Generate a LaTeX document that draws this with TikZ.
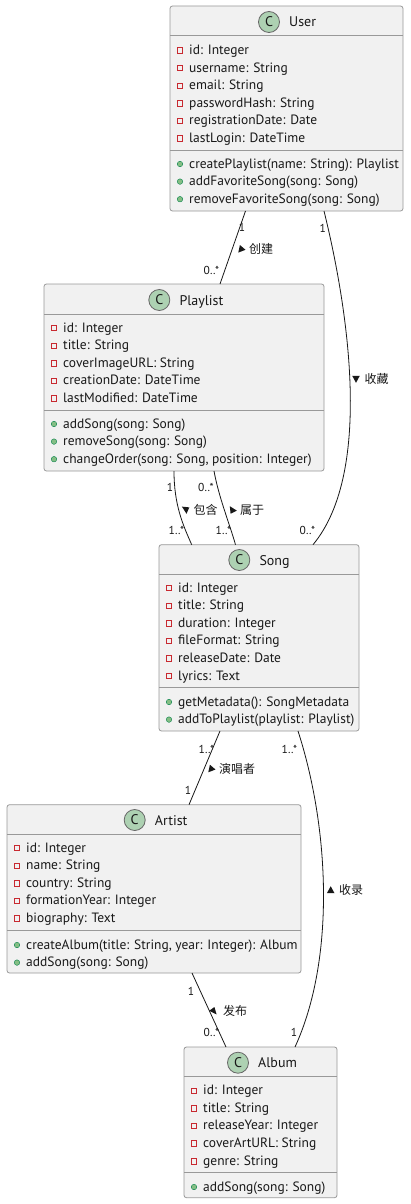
\documentclass[tikz,border=0pt]{standalone}
\usepackage{fontspec}
\setmainfont{PT Sans}
\newfontfamily\cjk{Noto Sans CJK SC}
\definecolor{boxfill}{HTML}{F1F1F1}
\definecolor{boxline}{HTML}{999999}
\definecolor{spotfill}{HTML}{ADD1B2}
\definecolor{attrred}{HTML}{C82930}
\definecolor{methfill}{HTML}{84BE84}
\definecolor{methline}{HTML}{038048}
\definecolor{ink}{HTML}{181818}
\tikzset{
 cls/.style={draw=boxline, fill=boxfill, rounded corners=2.5pt, inner sep=0pt, outer sep=0pt, line width=0.8pt},
 divl/.style={draw=boxline, line width=0.8pt},
 spot/.style={circle, draw=black!60, fill=spotfill, minimum size=21pt, inner sep=0pt, line width=0.8pt, font=\fontsize{14}{14}\selectfont, text=ink},
 ttl/.style={anchor=base west, inner sep=0pt, font=\fontsize{14}{14}\selectfont, text=ink},
 mem/.style={anchor=base west, inner sep=0pt, font=\fontsize{13.5}{14}\selectfont, text=ink},
 amark/.style={rectangle, draw=attrred, line width=0.7pt, minimum size=5.5pt, inner sep=0pt},
 mmark/.style={circle, draw=methline, fill=methfill, minimum size=5.5pt, inner sep=0pt, line width=0.4pt},
 conn/.style={draw=ink, line width=0.8pt},
 mult/.style={inner sep=0pt, font=\fontsize{11.5}{12}\selectfont, text=ink},
 lbl/.style={inner sep=0pt, font=\cjk\fontsize{12}{12}\selectfont, text=ink},
 tri/.style={fill=ink},
}
\newcounter{rowc}
\newcommand\classhead[4]{% prefix, circle x, title y, title
  \node[spot] (#1spot) at (#2,#3) {C};
  \node[ttl] (#1title) at (#2+20,#3+5) {#4};
}
\newcommand\attrrow[3]{% L, y, text
  \stepcounter{rowc}%
  \node[amark] (am\arabic{rowc}) at (#1+10,#2) {};
  \node[mem] (at\arabic{rowc}) at (#1+19,#2+4) {#3};
}
\newcommand\methrow[3]{% L, y, text
  \stepcounter{rowc}%
  \node[mmark] (mm\arabic{rowc}) at (#1+10,#2) {};
  \node[mem] (mt\arabic{rowc}) at (#1+19,#2+4) {#3};
}
\newcommand\dirtri[3]{%
  \fill[tri, shift={(#1,#2)}, rotate=#3] (3.8,0) -- (-3.2,3.8) -- (-3.2,-3.8) -- cycle;}
\begin{document}
\begin{tikzpicture}[x=1pt,y=-1pt]
\fill[white] (0,0) rectangle (410,1204);
\useasboundingbox (0,0) rectangle (410,1204);

% ---------- User
\node[cls, minimum width=233pt, minimum height=205pt] (user) at (286.5,108.5) {};
\draw[divl] (170,35.5) -- (403,35.5);
\draw[divl] (170,150) -- (403,150);
\classhead{u}{269}{22}{User}
\attrrow{170}{50.5}{id: Integer}
\attrrow{170}{68.1}{username: String}
\attrrow{170}{85.7}{email: String}
\attrrow{170}{103.3}{passwordHash: String}
\attrrow{170}{120.9}{registrationDate: Date}
\attrrow{170}{138.5}{lastLogin: DateTime}
\methrow{170}{164}{createPlaylist(name: String): Playlist}
\methrow{170}{181.6}{addFavoriteSong(song: Song)}
\methrow{170}{199.2}{removeFavoriteSong(song: Song)}

% ---------- Playlist
\node[cls, minimum width=280pt, minimum height=187pt] (playlist) at (184,377.5) {};
\draw[divl] (44,314) -- (324,314);
\draw[divl] (44,410.7) -- (324,410.7);
\classhead{p}{159.3}{300}{Playlist}
\attrrow{44}{328}{id: Integer}
\attrrow{44}{345.6}{title: String}
\attrrow{44}{363.2}{coverImageURL: String}
\attrrow{44}{380.8}{creationDate: DateTime}
\attrrow{44}{398.4}{lastModified: DateTime}
\methrow{44}{424}{addSong(song: Song)}
\methrow{44}{441.6}{removeSong(song: Song)}
\methrow{44}{459.2}{changeOrder(song: Song, position: Integer)}

% ---------- Song
\node[cls, minimum width=200pt, minimum height=186.3pt] (song) at (259,637.85) {};
\draw[divl] (159,574) -- (359,574);
\draw[divl] (159,687.7) -- (359,687.7);
\classhead{s}{239.3}{560}{Song}
\attrrow{159}{588}{id: Integer}
\attrrow{159}{605.6}{title: String}
\attrrow{159}{623.2}{duration: Integer}
\attrrow{159}{640.8}{fileFormat: String}
\attrrow{159}{658.4}{releaseDate: Date}
\attrrow{159}{676}{lyrics: Text}
\methrow{159}{702}{getMetadata(): SongMetadata}
\methrow{159}{719.6}{addToPlaylist(playlist: Playlist)}

% ---------- Artist
\node[cls, minimum width=294pt, minimum height=168.3pt] (artist) at (154,888.85) {};
\draw[divl] (7,834) -- (301,834);
\draw[divl] (7,930.7) -- (301,930.7);
\classhead{a}{134.7}{820}{Artist}
\attrrow{7}{848}{id: Integer}
\attrrow{7}{865.6}{name: String}
\attrrow{7}{883.2}{country: String}
\attrrow{7}{900.8}{formationYear: Integer}
\attrrow{7}{918.4}{biography: Text}
\methrow{7}{945}{createAlbum(title: String, year: Integer): Album}
\methrow{7}{962.6}{addSong(song: Song)}

% ---------- Album
\node[cls, minimum width=153pt, minimum height=150.7pt] (album) at (260.5,1122.35) {};
\draw[divl] (184,1076.7) -- (337,1076.7);
\draw[divl] (184,1172.7) -- (337,1172.7);
\classhead{b}{238}{1062.7}{Album}
\attrrow{184}{1090.7}{id: Integer}
\attrrow{184}{1108.3}{title: String}
\attrrow{184}{1125.9}{releaseYear: Integer}
\attrrow{184}{1143.5}{coverArtURL: String}
\attrrow{184}{1161.1}{genre: String}
\methrow{184}{1187}{addSong(song: Song)}

% ---------- connectors
% User - Playlist : 创建
\draw[conn] ([xshift=75.5pt]user.south west) -- ([xshift=176pt]playlist.north west);
\node[mult] (m1a) at (242,227.3) {1};
\node[mult] (m1b) at (211.5,270) {0..*};
\fill[tri, shift={(241.7,249)}] (-1.8,-4) -- (-3.4,3.6) -- (3.8,0.8) -- cycle;
\node[lbl] (l1) at (261,249) {创建};

% User - Song : 收藏
\draw[conn] ([xshift=154pt]user.south west) .. controls (346,300) and (375,470) .. ([xshift=154pt]song.north west);
\node[mult] (m2a) at (322.7,228) {1};
\node[mult] (m2b) at (307.5,530.7) {0..*};
\dirtri{356}{379}{-90}
\node[lbl] (l2) at (376.5,379) {收藏};

% Playlist - Song : 包含
\draw[conn] ([xshift=130pt]playlist.south west) .. controls (174,505) and (183,525) .. ([xshift=32.7pt]song.north west);
\node[mult] (m3a) at (170,487.7) {1};
\node[mult] (m3b) at (176.5,530.7) {1..*};
\fill[tri, shift={(185.7,510)}] (-3.8,-3.4) -- (3.6,-2.6) -- (0.8,3.8) -- cycle;
\node[lbl] (l3) at (205.5,510) {包含};

% Playlist - Song : 属于
\draw[conn] ([xshift=170pt]playlist.south west) .. controls (219,498) and (229,522) .. ([xshift=76.5pt]song.north west);
\node[mult] (m4a) at (206,487.7) {0..*};
\node[mult] (m4b) at (223.5,530.7) {1..*};
\fill[tri, shift={(233,510)}] (-3.2,-3.8) -- (-2.4,3.8) -- (3.8,0.6) -- cycle;
\node[lbl] (l4) at (252,510) {属于};

% Song - Artist : 演唱者
\draw[conn] ([xshift=61pt]song.south west) -- ([xshift=182pt]artist.north west);
\node[mult] (m5a) at (206.5,749) {1..*};
\node[mult] (m5b) at (188,790) {1};
\fill[tri, shift={(211.7,768.7)}] (-1.8,-4) -- (-3.4,3.6) -- (3.8,0.8) -- cycle;
\node[lbl] (l5) at (237,768.7) {演唱者};

% Song - Album : 收录
\draw[conn] ([xshift=139pt]song.south west) .. controls (330,830) and (335,960) .. ([xshift=111pt]album.north west);
\node[mult] (m6a) at (289.5,749) {1..*};
\node[mult] (m6b) at (294,1032.7) {1};
\dirtri{330.7}{890}{90}
\node[lbl] (l6) at (351,890) {收录};

% Artist - Album : 发布
\draw[conn] ([xshift=185pt]artist.south west) -- ([xshift=42pt]album.north west);
\node[mult] (m7a) at (191,991) {1};
\node[mult] (m7b) at (211.5,1032.7) {0..*};
\fill[tri, shift={(213,1011)}] (1.4,-4) -- (3.6,3.4) -- (-3.8,-0.2) -- cycle;
\node[lbl] (l7) at (235,1011) {发布};
\end{tikzpicture}
\end{document}
